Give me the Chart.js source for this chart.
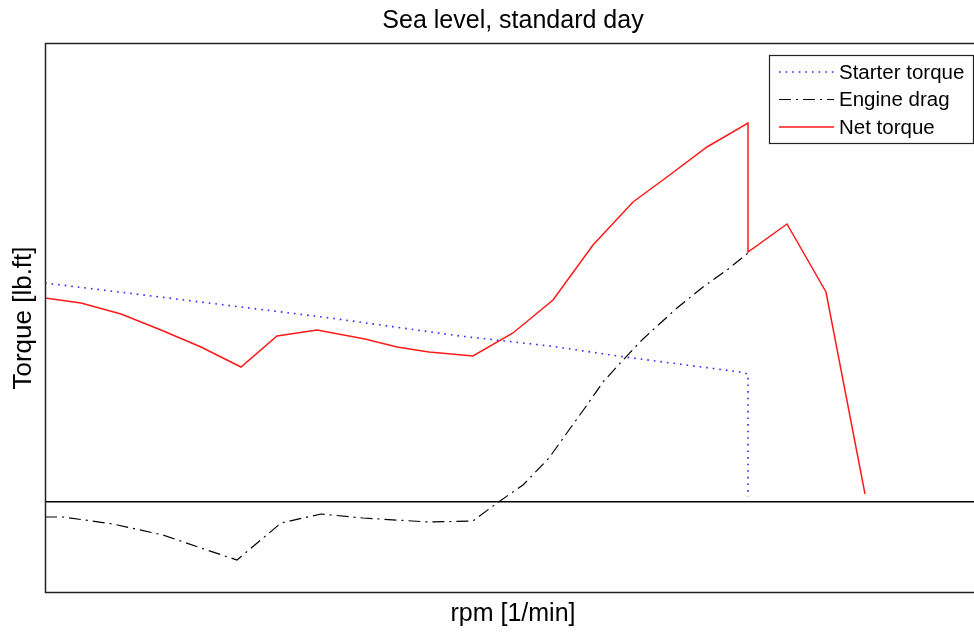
<!DOCTYPE html>
<html>
<head>
<meta charset="utf-8">
<script src="https://cdn.jsdelivr.net/npm/chart.js@4"></script>
<style>
  html, body { margin: 0; padding: 0; overflow: hidden; background: #fff; }
</style>
</head>
<body>
<canvas id="torque" width="981" height="633"></canvas>
<script>
// values (torque in lb.ft, speed in rpm)
var starterRpm = [0, 287.5, 470, 712.5, 1037.5, 1262.5, 1450, 1737.5, 1757.5, 1757.5]
var starterTorque = [54.75, 51.25, 49, 46, 41.5, 39, 36.25, 32.5, 32, 1.25]

var dragRpm = [0, 45, 170, 295, 390, 480, 590, 690, 795, 960, 1070, 1130, 1195, 1260, 1310, 1355, 1395, 1445, 1495, 1580, 1645, 1705, 1757.5]
var dragTorque = [-3.75, -3.75, -5.5, -8.25, -11.5, -14.5, -5.25, -3, -4, -5, -4.75, -0.25, 4.25, 11, 18, 24.25, 30, 35.5, 40.75, 48.5, 53.75, 58, 62.25]

var netRpm = [0, 90, 190, 290, 390, 490, 580, 680, 800, 880, 960, 1070, 1170, 1270, 1370, 1470, 1555, 1655, 1757.5, 1757.5, 1855, 1952.5, 2050]
var netTorque = [51, 49.75, 47, 43, 38.75, 33.75, 41.5, 43, 40.75, 38.75, 37.5, 36.5, 42.25, 50.5, 64.25, 75, 81.25, 88.75, 94.75, 62.5, 69.5, 52.5, 2]

var seriesNames = ['Starter torque', 'Engine drag', 'Net torque']

function pairs(xs, ys) {
    return xs.map(function (x, i) { return { x: x, y: ys[i] } })
}

var font = '"Liberation Sans", Arial, sans-serif'

// box round the plot area plus a legend inside it, like the original figure
var boxAndLegend = {
    id: 'boxAndLegend',
    afterDatasetsDraw: function (chart) {
        var ctx = chart.ctx
        var a = chart.chartArea
        ctx.save()
        ctx.strokeStyle = '#222'
        ctx.lineWidth = 1.5
        ctx.setLineDash([])
        ctx.strokeRect(a.left + 0.5, a.top + 0.5, a.right - a.left - 1, a.bottom - a.top - 1)

        var lx = a.right - 212, ly = a.top + 12
        ctx.fillStyle = '#fff'
        ctx.fillRect(lx, ly, 204, 88)
        ctx.lineWidth = 1.2
        ctx.strokeStyle = '#222'
        ctx.strokeRect(lx + 0.5, ly + 0.5, 204, 88)
        ctx.font = '20.5px ' + font
        ctx.textBaseline = 'middle'
        chart.data.datasets.forEach(function (ds, i) {
            var y = ly + 17 + i * 27.5
            ctx.beginPath()
            ctx.strokeStyle = ds.borderColor
            ctx.lineWidth = ds.borderWidth
            ctx.setLineDash(ds.borderDash || [])
            ctx.moveTo(lx + 10, y)
            ctx.lineTo(lx + 65, y)
            ctx.stroke()
            ctx.setLineDash([])
            ctx.fillStyle = '#000'
            ctx.fillText(ds.label, lx + 70, y + 1)
        })
        ctx.restore()
    }
}

var ctx = document.getElementById('torque').getContext('2d')
var chart = new Chart(ctx, {
    type: 'scatter',
    data: {
        datasets: [
            {
                label: seriesNames[0],
                data: pairs(starterRpm, starterTorque),
                showLine: true,
                borderColor: '#2a2aff',
                borderWidth: 1.6,
                borderDash: [1.6, 5],
                pointRadius: 0,
                order: 3
            },
            {
                label: seriesNames[1],
                data: pairs(dragRpm, dragTorque),
                showLine: true,
                borderColor: '#000',
                borderWidth: 1.2,
                borderDash: [12, 5, 2, 5],
                pointRadius: 0,
                order: 2
            },
            {
                label: seriesNames[2],
                data: pairs(netRpm, netTorque),
                showLine: true,
                borderColor: '#ff1a1a',
                borderWidth: 1.5,
                pointRadius: 0,
                order: 1
            }
        ]
    },
    options: {
        responsive: false,
        animation: false,
        layout: { padding: 0 },
        plugins: {
            legend: { display: false },
            tooltip: { enabled: false },
            title: {
                display: true,
                fullSize: false,
                text: 'Sea level, standard day',
                color: '#000',
                font: { family: font, size: 25, weight: 'normal' },
                padding: { top: 6, bottom: 7 }
            }
        },
        scales: {
            x: {
                type: 'linear',
                min: 0,
                max: 2340,
                ticks: { display: false },
                grid: { display: false, drawTicks: false },
                border: { display: false },
                title: {
                    display: true,
                    text: 'rpm [1/min]',
                    color: '#000',
                    font: { family: font, size: 25 },
                    padding: { top: 6, bottom: 4 }
                }
            },
            y: {
                min: -22.75,
                max: 114.75,
                afterBuildTicks: function (scale) {
                    scale.ticks = [{ value: 0 }]
                },
                ticks: { display: false },
                grid: { color: '#000', lineWidth: 1.5, drawTicks: false },
                border: { display: false },
                title: {
                    display: true,
                    text: 'Torque [lb.ft]',
                    color: '#000',
                    font: { family: font, size: 26 },
                    padding: { top: 8, bottom: 5.8 }
                }
            }
        }
    },
    plugins: [boxAndLegend]
})
</script>
</body>
</html>
